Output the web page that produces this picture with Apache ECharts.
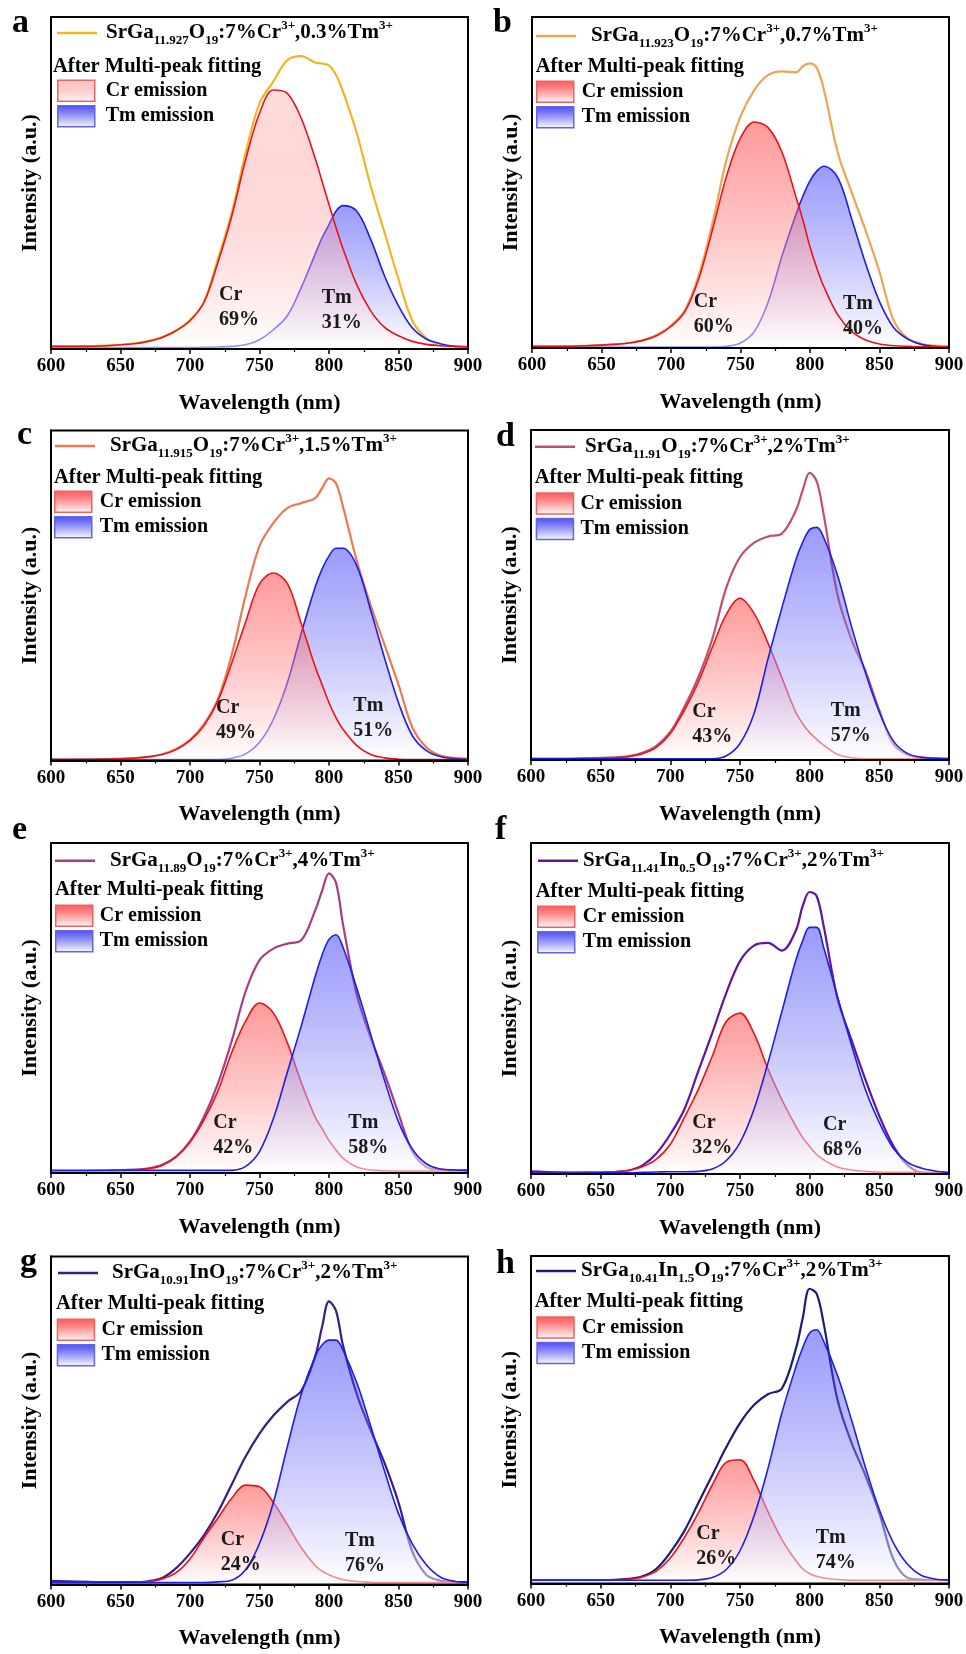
<!DOCTYPE html>
<html>
<head>
<meta charset="utf-8">
<script src="https://cdn.jsdelivr.net/npm/echarts@6/dist/echarts.min.js"></script>
<style>
  html, body { margin: 0; padding: 0; background: #fff; }
  #chart { width: 966px; height: 1654px; }
</style>
</head>
<body>
<div id="chart"></div>
<script>
const FONT = '"Liberation Serif", "Times New Roman", serif';

// Emission wavelength grid (nm)
const wavelength = [600,620,640,660,670,680,690,700,710,720,730,740,750,760,770,780,790,795,800,805,810,820,830,840,850,860,870,880,890,900];

// (a) SrGa11.927O19:7%Cr,0.3%Tm
const totalA = [0.8,0.8,1.0,1.7,2.4,3.6,5.6,8.7,14.2,27,41,59,74,80.6,87,88.2,86.3,86,85.4,82.6,77.6,65,49,35,21,8.5,3.2,1.2,0.8,0.7];
const crA    = [0.8,0.8,1.0,1.6,2.3,3.5,5.5,8.5,14,26,40,57,71,78,77,69.5,57.5,50.5,43.5,36.7,30.3,19.3,11.5,6.5,4.0,2.3,1.4,1.0,0.8,0.7];
const tmA    = [0.4,0.4,0.4,0.4,0.4,0.4,0.4,0.4,0.5,0.6,0.8,1.3,2.8,5.8,10,18.5,28.5,33.5,37.5,41.5,43.2,41.5,33,22,13,6.3,3.0,1.6,0.8,0.5];
// (b) SrGa11.923O19:7%Cr,0.7%Tm
const totalB = [0.5,0.5,0.7,1.1,1.5,2.4,4.0,6.8,11.5,22,38,57,70,78,82.5,83.6,83.3,85.2,86,84.5,78,59,47,35.5,23,8.5,3,1.3,0.7,0.5];
const crB    = [0.5,0.5,0.7,1.1,1.5,2.3,3.8,6.5,11,21,36,52,63.5,68.3,66.5,59,45.5,38.5,30.5,24,18.5,10,5,2.4,1.2,0.7,0.5,0.4,0.4,0.4];
const tmB    = [0.3,0.3,0.3,0.3,0.3,0.3,0.3,0.3,0.3,0.3,0.3,0.5,1.5,5,14,28,40.5,46,50.5,53.5,54.9,51.5,39,25.5,14,6.3,2.8,1.1,0.5,0.2];
// (c) SrGa11.915O19:7%Cr,1.5%Tm
const totalC = [0.3,0.3,0.4,0.7,1.1,1.9,3.5,6.3,11,18.5,32,50,65,72,76.5,78,79.5,82.5,85.5,84,77,60.5,47,35,23,10,4,1.5,0.8,0.5];
const crC    = [0.3,0.3,0.4,0.7,1.1,1.8,3.3,6,10.5,18,29.5,42,53.5,56.8,53.7,41.5,28.5,23,17.5,13,9.5,4.5,1.8,0.8,0.4,0.3,0.3,0.3,0.3,0.3];
const tmC    = [0.3,0.3,0.3,0.3,0.3,0.3,0.3,0.3,0.3,0.3,0.7,2.0,5.5,12.5,23.5,38.5,52.5,58,62,64.3,64.3,59,45.5,31,17.5,7.5,3,1.2,0.6,0.4];
// (d) SrGa11.91O19:7%Cr,2%Tm
const totalD = [0.4,0.4,0.5,0.8,1.2,2.2,4.3,8.5,16,25,36.5,52,61.5,65.8,67.7,68.6,75.5,81.8,87,84.5,74.5,50,36.5,27,15,4.8,1.6,0.8,0.5,0.4];
const crD    = [0.4,0.4,0.5,0.6,1.0,1.9,3.8,8,15,23.5,34,44,49,44.5,35.5,25,14.5,11,8.3,6.3,4.5,1.7,0.7,0.4,0.4,0.4,0.4,0.4,0.4,0.4];
const tmD    = [0.4,0.4,0.4,0.4,0.4,0.4,0.4,0.4,0.4,0.4,0.4,1.2,5,14,30.5,46,60.5,66,69.8,70.5,67.5,56,40.5,26.5,14.5,5.8,2.0,0.8,0.5,0.4];
// (e) SrGa11.89O19:7%Cr,4%Tm
const totalE = [0.6,0.6,0.7,1.0,1.4,2.5,5.0,9.6,17,27,40,55,64.5,68,69.5,70.5,79.5,85.5,90.8,88,75.5,54,41,30,18,6.5,1.8,1.0,0.8,0.8];
const crE    = [0.6,0.6,0.7,0.9,1.3,2.3,4.8,9.3,16,24.8,36.5,46,51.5,48.5,39.5,27.5,17,13.5,9.8,7,4.5,1.8,0.9,0.7,0.6,0.6,0.6,0.6,0.6,0.6];
const tmE    = [0.8,0.8,0.8,0.8,0.8,0.8,0.8,0.8,0.8,0.8,0.8,2.0,6.5,16.5,30.5,44.5,59.5,66,70.8,72.2,68.5,56,42,28,15.5,7.2,2.8,1.2,0.9,0.8];
// (f) SrGa11.41In0.5O19:7%Cr,2%Tm
const totalF = [0.8,0.5,0.4,0.6,1.0,2.6,6.2,12,19.5,31,42.5,54.5,64.3,69,69.8,67.5,73.5,81,85.2,84,75,53,40.5,28.5,17.5,8.5,2.8,0.5,0.3,0.3];
const crF    = [0.4,0.4,0.5,0.7,1.1,2.2,4.5,9,17,25.5,35.5,46,48.6,42.5,31.8,22.5,14.5,11,8.3,5.9,4.3,2.1,1.2,0.8,0.6,0.5,0.5,0.5,0.5,0.5];
const tmF    = [0.3,0.3,0.3,0.4,0.4,0.5,0.6,0.7,0.7,0.8,1.5,4.0,9.5,19.5,33.5,49,64.5,70.5,74.5,74.5,68.5,53.5,39,25.5,15.5,7.8,3.6,1.8,0.9,0.4];
// (g) SrGa10.91InO19:7%Cr,2%Tm
const totalG = [1.1,0.9,0.7,0.7,1.0,2.0,5.0,9.5,15,22,30.5,39,46,51.5,55.7,59,69.5,78.5,86.3,83.5,73,58,47,37,25,10,3,1.2,0.8,0.7];
const crG    = [0.6,0.6,0.6,0.7,0.9,1.7,3.6,7.8,14.2,20.2,26.3,30.3,29.8,25,18.3,11.3,5.8,4.1,3.0,2.1,1.5,0.9,0.7,0.6,0.6,0.6,0.6,0.6,0.6,0.6];
const tmG    = [0.6,0.6,0.6,0.6,0.6,0.6,0.6,0.6,0.6,0.8,1.3,4.5,12.5,25,42,58,69.5,73,74.5,74.5,71.5,61.5,48.3,34.5,21.6,12.3,6,2.3,1.0,0.7];
// (h) SrGa10.41In1.5O19:7%Cr,2%Tm
const totalH = [1.0,1.0,1.0,1.1,1.4,2.2,4.5,9.5,16,24.5,33,41.5,49,54.5,57.8,59.5,71.5,81,90,88.5,79.5,56,43,33,21.5,7.5,1.8,1.2,1.0,1.0];
const crH    = [1.0,1.0,1.0,1.1,1.3,2.0,3.8,7.8,14,21.5,30,37,37.8,31.5,22,13.5,7,4.5,3.0,2.2,1.7,1.2,1.0,1.0,1.0,1.0,1.0,1.0,1.0,1.0];
const tmH    = [1.0,1.0,1.0,1.0,1.0,1.0,1.0,1.0,1.0,1.1,1.8,4.2,10,20.5,35,52,66,72,76.5,77.5,74,63.5,50,35.5,22.5,12.5,6,2.5,1.4,1.0];

const xTicks = [600, 650, 700, 750, 800, 850, 900];
const panelLetters = ['a','b','c','d','e','f','g','h'];
const sampleNames = [
  'SrGa11.927O19:7%Cr3+,0.3%Tm3+',
  'SrGa11.923O19:7%Cr3+,0.7%Tm3+',
  'SrGa11.915O19:7%Cr3+,1.5%Tm3+',
  'SrGa11.91O19:7%Cr3+,2%Tm3+',
  'SrGa11.89O19:7%Cr3+,4%Tm3+',
  'SrGa11.41In0.5O19:7%Cr3+,2%Tm3+',
  'SrGa10.91InO19:7%Cr3+,2%Tm3+',
  'SrGa10.41In1.5O19:7%Cr3+,2%Tm3+'
];
const sampleRich = [
  'SrGa{sub|11.927}O{sub|19}:7%Cr{sup|3+},0.3%Tm{sup|3+}',
  'SrGa{sub|11.923}O{sub|19}:7%Cr{sup|3+},0.7%Tm{sup|3+}',
  'SrGa{sub|11.915}O{sub|19}:7%Cr{sup|3+},1.5%Tm{sup|3+}',
  'SrGa{sub|11.91}O{sub|19}:7%Cr{sup|3+},2%Tm{sup|3+}',
  'SrGa{sub|11.89}O{sub|19}:7%Cr{sup|3+},4%Tm{sup|3+}',
  'SrGa{sub|11.41}In{sub|0.5}O{sub|19}:7%Cr{sup|3+},2%Tm{sup|3+}',
  'SrGa{sub|10.91}InO{sub|19}:7%Cr{sup|3+},2%Tm{sup|3+}',
  'SrGa{sub|10.41}In{sub|1.5}O{sub|19}:7%Cr{sup|3+},2%Tm{sup|3+}'
];
const crShare = [69, 60, 49, 43, 42, 32, 24, 26];
const secondShare = [31, 40, 51, 57, 58, 68, 76, 74];
const secondName = ['Tm', 'Tm', 'Tm', 'Tm', 'Tm', 'Cr', 'Tm', 'Tm'];

const totals = [totalA, totalB, totalC, totalD, totalE, totalF, totalG, totalH];
const crs = [crA, crB, crC, crD, crE, crF, crG, crH];
const tms = [tmA, tmB, tmC, tmD, tmE, tmF, tmG, tmH];
const totalColors = ['#F2B526', '#F2A254', '#E97A52', '#C24F68', '#A83D82', '#6213A0', '#3B1C86', '#1C1C7A'];

// Panel placement in pixels
const layout = [
  {left: 51,  top: 17,    w: 417, h: 332,   line: [57, 33],     linePad: 4,  fit: [53, 66.7],    box: [57, 80],      boxPad: 6, letter: [12, 23],   cr: [219, 295],    tm: [321.7, 297.7]},
  {left: 532, top: 17,    w: 417, h: 331,   line: [536, 36],    linePad: 10, fit: [535.7, 66.7], box: [536, 81],     boxPad: 3, letter: [493, 23],  cr: [693.7, 301.7], tm: [843, 304]},
  {left: 51,  top: 430.5, w: 417, h: 330,   line: [55, 446],    linePad: 10, fit: [54, 477.7],   box: [54, 491],     boxPad: 3, letter: [17, 435],  cr: [216, 707.7],  tm: [353.3, 706]},
  {left: 531, top: 430,   w: 418, h: 330,   line: [535, 446.7], linePad: 5,  fit: [534.7, 478],  box: [535.7, 492.7], boxPad: 2, letter: [496, 437], cr: [692.3, 711.7], tm: [830.7, 711]},
  {left: 51,  top: 843,   w: 417, h: 330,   line: [55, 860.7],  linePad: 10, fit: [55, 890],     box: [55, 905],     boxPad: 2, letter: [12, 830],  cr: [213.3, 1123.3], tm: [348.3, 1123.3]},
  {left: 531, top: 843,   w: 418, h: 331,   line: [538, 860.7], linePad: 0,  fit: [535.7, 891.7], box: [537, 906],   boxPad: 3, letter: [495, 830], cr: [692.3, 1123.3], tm: [823, 1125]},
  {left: 51,  top: 1256.5, w: 417, h: 328,  line: [58, 1273],   linePad: 9,  fit: [56, 1304],    box: [56.7, 1319],  boxPad: 2, letter: [20, 1262], cr: [220.7, 1540], tm: [345, 1540.7]},
  {left: 531, top: 1256,  w: 418, h: 327.5, line: [536, 1271],  linePad: 0,  fit: [534.7, 1302], box: [536.3, 1316.7], boxPad: 3, letter: [496, 1264], cr: [696.3, 1534], tm: [815.7, 1538]}
];

function vGradient(top, bottom) {
  return {type: 'linear', x: 0, y: 0, x2: 0, y2: 1,
    colorStops: [{offset: 0, color: top}, {offset: 1, color: bottom}]};
}

const richStyles = {
  sub: {fontFamily: FONT, fontWeight: 'bold', fontSize: 13, lineHeight: 14, verticalAlign: 'bottom', color: '#000'},
  sup: {fontFamily: FONT, fontWeight: 'bold', fontSize: 13, lineHeight: 14, verticalAlign: 'top', color: '#000'}
};

const CR_LINE = '#E8141C';
const TM_LINE = '#1E1EE6';

const grids = [], xAxes = [], yAxes = [], series = [], legends = [], graphics = [];
const pairs = arr => wavelength.map((w, k) => [w, arr[k]]);

layout.forEach((p, i) => {
  grids.push({
    left: p.left, top: p.top, width: p.w, height: p.h,
    show: true, borderColor: '#000', borderWidth: 2, backgroundColor: 'transparent',
    z: 10, containLabel: false, outerBoundsMode: 'none'
  });
  xAxes.push({
    gridIndex: i, type: 'value', min: xTicks[0], max: xTicks[xTicks.length - 1], interval: xTicks[1] - xTicks[0], z: 10,
    name: 'Wavelength (nm)', nameLocation: 'middle', nameGap: 43,
    nameTextStyle: {color: '#000', fontFamily: FONT, fontWeight: 'bold', fontSize: 22},
    axisLine: {show: true, onZero: false, lineStyle: {color: '#000', width: 2}},
    axisTick: {show: true, inside: false, length: 5, lineStyle: {color: '#000', width: 1.5}},
    minorTick: {show: true, splitNumber: 2, length: 3, lineStyle: {color: '#000', width: 1.2}},
    axisLabel: {show: true, color: '#000', fontFamily: FONT, fontWeight: 'bold', fontSize: 19, margin: 8, showMinLabel: true, showMaxLabel: true},
    splitLine: {show: false}, minorSplitLine: {show: false}
  });
  yAxes.push({
    gridIndex: i, type: 'value', min: 0, max: 100, z: 10,
    name: 'Intensity (a.u.)', nameLocation: 'middle', nameRotate: 90, nameGap: 10,
    nameTextStyle: {color: '#000', fontFamily: FONT, fontWeight: 'bold', fontSize: 22},
    axisLine: {show: true, onZero: false, lineStyle: {color: '#000', width: 2}},
    axisTick: {show: false}, axisLabel: {show: false}, splitLine: {show: false}
  });

  const crOnTop = i < 3;
  const total = {
    type: 'line', name: sampleNames[i], xAxisIndex: i, yAxisIndex: i,
    data: pairs(totals[i]), smooth: 0.35, symbol: 'none', silent: true,
    lineStyle: {color: totalColors[i], width: 2.2}, itemStyle: {color: totalColors[i]}, z: 2
  };
  const cr = {
    type: 'line', name: 'Cr emission', xAxisIndex: i, yAxisIndex: i,
    data: pairs(crs[i]), smooth: 0.35, symbol: 'none', silent: true,
    lineStyle: {color: CR_LINE, width: 1.6}, itemStyle: {color: CR_LINE},
    areaStyle: {color: vGradient(i === 0 ? 'rgba(255,40,40,0.22)' : 'rgba(255,25,25,0.62)', 'rgba(255,255,255,0.75)')},
    z: crOnTop ? 4 : 3
  };
  const tm = {
    type: 'line', name: 'Tm emission', xAxisIndex: i, yAxisIndex: i,
    data: pairs(tms[i]), smooth: 0.35, symbol: 'none', silent: true,
    lineStyle: {color: TM_LINE, width: 1.6}, itemStyle: {color: TM_LINE},
    areaStyle: {color: vGradient('rgba(25,25,245,0.62)', 'rgba(255,255,255,0.75)')},
    z: crOnTop ? 3 : 4
  };
  series.push(total);
  if (crOnTop) { series.push(tm, cr); } else { series.push(cr, tm); }

  // sample legend: a plain line swatch followed by the composition
  legends.push({
    left: p.line[0], top: p.line[1] - 14, padding: 0, orient: 'horizontal',
    itemWidth: 40, itemHeight: 2.4, selectedMode: false,
    data: [{name: sampleNames[i], icon: 'rect', itemStyle: {color: totalColors[i], borderWidth: 0}}],
    formatter: () => sampleRich[i],
    textStyle: {color: '#000', fontFamily: FONT, fontWeight: 'bold', fontSize: 21, lineHeight: 28,
      padding: [0, 0, 0, p.linePad], rich: richStyles}
  });
  // fitted component legend
  legends.push({
    left: p.box[0], top: p.box[1] - 0.5, padding: 0, orient: 'vertical',
    itemWidth: 37, itemHeight: 21, itemGap: 3, selectedMode: false, icon: 'rect',
    data: [
      {name: 'Cr emission', icon: 'rect', itemStyle: {
        color: vGradient(i === 0 ? 'rgba(255,110,110,0.35)' : 'rgba(255,45,45,0.8)', 'rgba(255,255,255,1)'),
        borderColor: '#E86565', borderWidth: 1.5}},
      {name: 'Tm emission', icon: 'rect', itemStyle: {
        color: vGradient('rgba(45,45,240,0.85)', 'rgba(255,255,255,1)'),
        borderColor: '#6464E6', borderWidth: 1.5}}
    ],
    textStyle: {color: '#000', fontFamily: FONT, fontWeight: 'bold', fontSize: 20, lineHeight: 22,
      padding: [0, 0, 0, p.boxPad]}
  });

  const bold = {fontFamily: FONT, fontWeight: 'bold'};
  graphics.push({type: 'text', x: p.letter[0], y: p.letter[1], z: 20,
    style: Object.assign({text: panelLetters[i], fontSize: 34, verticalAlign: 'middle', fill: '#000'}, bold)});
  graphics.push({type: 'text', x: p.fit[0], y: p.fit[1], z: 20,
    style: Object.assign({text: 'After Multi-peak fitting', fontSize: 20.5, verticalAlign: 'middle', fill: '#000'}, bold)});
  graphics.push({type: 'text', x: p.cr[0], y: p.cr[1] + 12.5, z: 20,
    style: Object.assign({text: 'Cr\n' + crShare[i] + '%', fontSize: 20, lineHeight: 25, verticalAlign: 'middle', fill: '#1a1a1a'}, bold)});
  graphics.push({type: 'text', x: p.tm[0], y: p.tm[1] + 12.5, z: 20,
    style: Object.assign({text: secondName[i] + '\n' + secondShare[i] + '%', fontSize: 20, lineHeight: 25, verticalAlign: 'middle', fill: '#1a1a1a'}, bold)});
});

const chart = echarts.init(document.getElementById('chart'), null, {renderer: 'canvas'});
chart.setOption({
  backgroundColor: '#fff',
  animation: false,
  textStyle: {fontFamily: FONT},
  grid: grids,
  xAxis: xAxes,
  yAxis: yAxes,
  legend: legends,
  series: series,
  graphic: graphics
});
</script>
</body>
</html>
